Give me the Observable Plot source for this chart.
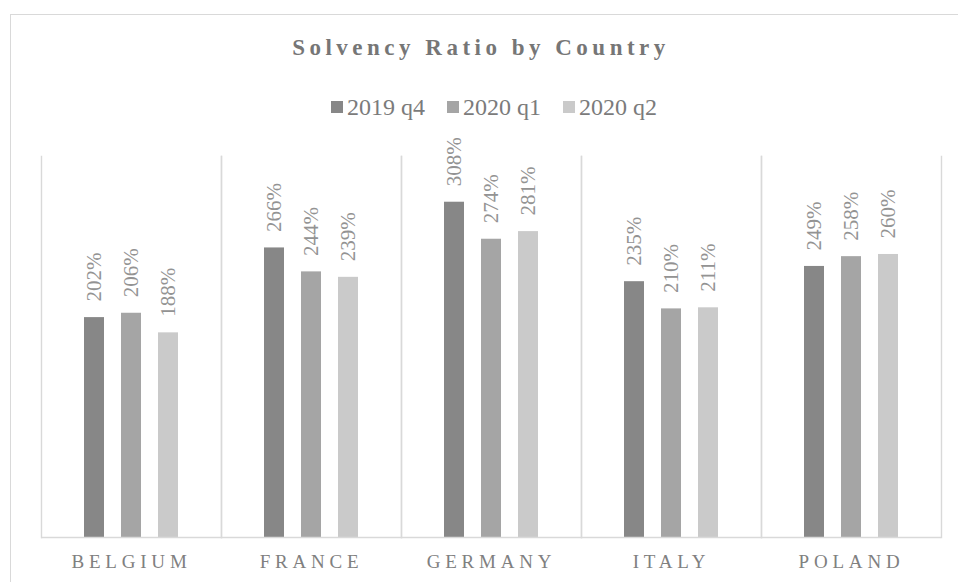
<!DOCTYPE html>
<html>
<head>
<meta charset="utf-8">
<script src="https://cdn.jsdelivr.net/npm/d3@7"></script>
<script src="https://cdn.jsdelivr.net/npm/@observablehq/plot@0.6"></script>
<style>
  html, body { margin: 0; padding: 0; background: #fff; }
  body { width: 958px; height: 582px; overflow: hidden; position: relative; font-family: "Liberation Serif", "Times New Roman", serif; }
  #border { position: absolute; left: 10px; top: 14px; width: 1000px; height: 700px; border-left: 1.6px solid #d9d9d9; border-top: 1.6px solid #d9d9d9; }
  #title { position: absolute; left: 2px; top: 36px; width: 958px; text-align: center; font-size: 23px; line-height: 23px; font-weight: bold; letter-spacing: 4.5px; color: #767676; white-space: nowrap; }
  #legend { position: absolute; left: 331px; top: 95px; font-size: 24px; line-height: 24px; color: #7b7b7b; white-space: nowrap; }
  #legend .item { display: inline-block; margin-right: 22px; }
  #legend .sw { display: inline-block; width: 12px; height: 12px; margin-right: 4px; vertical-align: 2px; }
  #chart { position: absolute; left: 0; top: 125px; }
  #chart svg g[aria-label^="fx-axis"] text { letter-spacing: 4.8px; }
</style>
</head>
<body>
<div id="border"></div>
<div id="title">Solvency Ratio by Country</div>
<div id="legend"></div>
<div id="chart"></div>
<script>
const countries = ["BELGIUM", "FRANCE", "GERMANY", "ITALY", "POLAND"];
const series = ["2019 q4", "2020 q1", "2020 q2"];
const values2019q4 = [202, 266, 308, 235, 249];
const values2020q1 = [206, 244, 274, 210, 258];
const values2020q2 = [188, 239, 281, 211, 260];
const colors = ["#878787", "#a5a5a5", "#cacaca"];

const seriesValues = [values2019q4, values2020q1, values2020q2];
const data = [];
countries.forEach((c, i) => {
  series.forEach((s, j) => {
    data.push({country: c, series: s, value: seriesValues[j][i]});
  });
});

// Legend
const legend = d3.select("#legend");
series.forEach((s, j) => {
  const item = legend.append("span").attr("class", "item");
  item.append("span").attr("class", "sw").style("background", colors[j]);
  item.append("span").text(s);
});

const chart = Plot.plot({
  width: 958,
  height: 457,
  marginTop: 31,
  marginBottom: 45,
  marginLeft: 40,
  marginRight: 17,
  style: {fontFamily: "Liberation Serif", fontSize: "19px", color: "#808080", background: "transparent"},
  fx: {domain: countries, padding: 0, label: null, tickSize: 0, tickPadding: 17, axis: "bottom"},
  x: {domain: series, axis: null, paddingInner: 0.46, paddingOuter: 0, insetLeft: 43, insetRight: 43},
  y: {domain: [0, 350], axis: null},
  color: {domain: series, range: colors},
  marks: [
    Plot.frame({anchor: "left", stroke: "#d9d9d9", strokeWidth: 1.4}),
    Plot.frame({anchor: "right", stroke: "#d9d9d9", strokeWidth: 1.4}),
    Plot.barY(data, {fx: "country", x: "series", y: "value", fill: "series"}),
    Plot.ruleY([0], {stroke: "#d9d9d9", strokeWidth: 1.6}),
    Plot.text(data, {
      fx: "country", x: "series", y: "value",
      text: d => d.value + "%",
      rotate: -90, textAnchor: "start", dy: -16,
      fontSize: 21, fill: "#939393"
    })
  ]
});
document.getElementById("chart").appendChild(chart);
</script>
</body>
</html>
